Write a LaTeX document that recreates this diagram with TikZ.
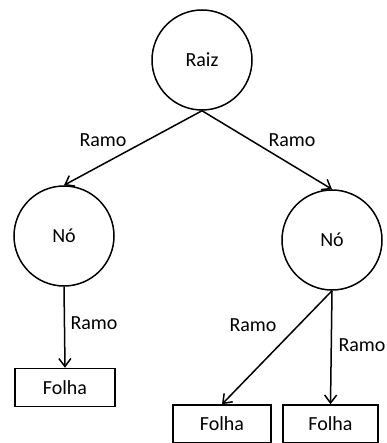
\documentclass[tikz,border=0pt]{standalone}
\usepackage{fontspec}
\setmainfont{Carlito}
\usetikzlibrary{arrows.meta}
\begin{document}
\begin{tikzpicture}[x=0.5pt,y=-0.5pt,
  font=\fontsize{10}{12}\selectfont,
  treenode/.style={draw,circle,minimum size=50pt,inner sep=0pt,line width=0.75pt},
  leaf/.style={draw,rectangle,minimum height=19pt,inner sep=0pt,line width=0.75pt},
  branch/.style={draw,line width=0.75pt,-{Straight Barb[length=4pt,width=6pt]}},
  lbl/.style={inner sep=0pt}]
  \useasboundingbox (0,0) rectangle (386,443);
  % nodes of the tree
  \node[treenode] (raiz) at (202,60) {Raiz};
  \node[treenode] (n1) at (64,236) {Nó};
  \node[treenode] (n2) at (332,240) {Nó};
  \node[leaf,minimum width=50pt] (f1) at (65,387.5) {Folha};
  \node[leaf,minimum width=49pt] (f2) at (222,424) {Folha};
  \node[leaf,minimum width=47.5pt] (f3) at (330.5,424) {Folha};
  % branches
  \draw[branch] (raiz.south) -- (n1.north);
  \draw[branch] (raiz.south) -- (n2.north);
  \draw[branch] (n1.south) -- (f1.north);
  \draw[branch] (n2.south) -- (f2.north);
  \draw[branch] (n2.south) -- (f3.north);
  % branch labels
  \node[lbl] (l1) at (103,140) {Ramo};
  \node[lbl] (l2) at (292,140) {Ramo};
  \node[lbl] (l3) at (94,323) {Ramo};
  \node[lbl] (l4) at (253,325) {Ramo};
  \node[lbl] (l5) at (362,345) {Ramo};
\end{tikzpicture}
\end{document}
